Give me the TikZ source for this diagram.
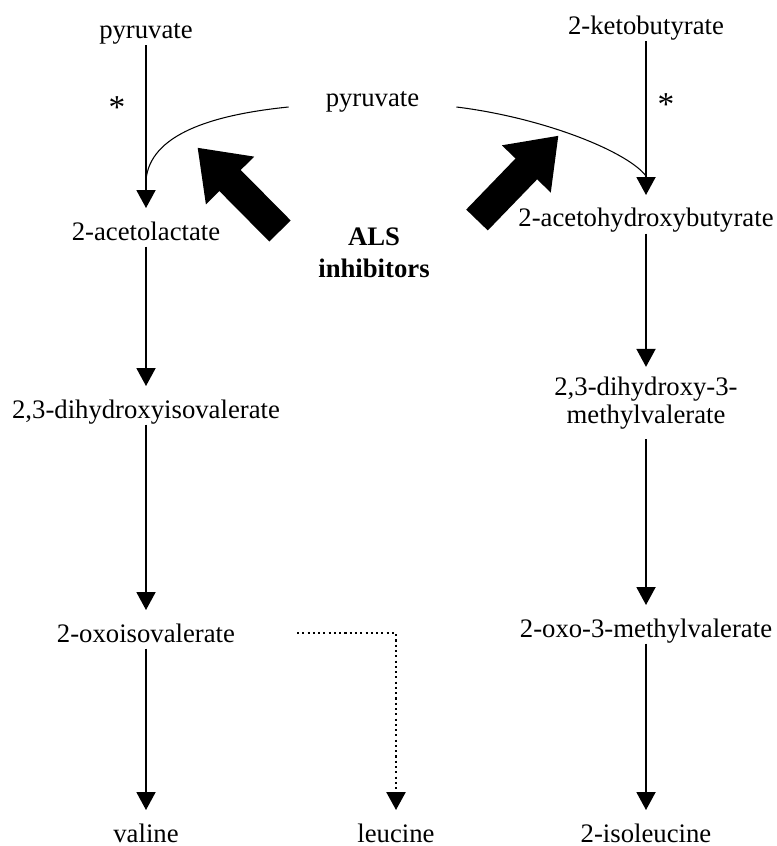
\documentclass[tikz,border=0pt]{standalone}
\usepackage{fontspec}
\setmainfont{Liberation Serif}
\usetikzlibrary{arrows.meta}

\begin{document}
\begin{tikzpicture}
        [met/.style = {font=\fontsize{15.2}{15.9}\selectfont,
        inner sep=0pt, text height=18pt, text depth=3.5pt, anchor=base},
        pair/.style = {font=\fontsize{15.2}{15.9}\selectfont,
        inner xsep=0pt, inner ysep=5.5pt, align=center},
        conv/.style = {line width=1.1pt,
        -{Triangle[length=3.6mm,width=3.8mm]}},
        feed/.style = {line width=0.6pt}]

        \useasboundingbox (0,0) rectangle (15.52,-16.92);

        % Valine branch
        \node[met] (pyrL) at (2.92,-0.78) {pyruvate};
        \node[met] (acl) at (2.92,-4.80) {2-acetolactate};
        \node[met] (dhiv) at (2.92,-8.36) {2,3-dihydroxyisovalerate};
        \node[met] (oiv) at (2.92,-12.84) {2-oxoisovalerate};
        \node[met, text depth=0pt] (val) at (2.92,-16.84) {valine};

        % Isoleucine branch
        \node[met] (kb) at (12.92,-0.70) {2-ketobutyrate};
        \node[met] (ahb) at (12.92,-4.54) {2-acetohydroxybutyrate};
        \node[pair] (dhmv) at (12.92,-8.06) {2,3-dihydroxy-3-\\methylvalerate};
        \node[met] (omv) at (12.92,-12.74) {2-oxo-3-methylvalerate};
        \node[met, text depth=0pt] (ile) at (12.92,-16.84) {2-isoleucine};

        % Leucine
        \node[met, text depth=0pt] (leu) at (7.92,-16.84) {leucine};

        % Second pyruvate and inhibitors
        \node[met, inner xsep=21pt] (pyrC) at (7.45,-2.14) {pyruvate};
        \node[pair, font=\bfseries\fontsize{15.2}{18}\selectfont] (als) at (7.48,-5.06) {ALS\\inhibitors};

        % ALS steps
        \node[met, font=\fontsize{19}{19}\selectfont] (starL) at (2.34,-2.38) {*};
        \node[met, font=\fontsize{19}{19}\selectfont] (starR) at (13.32,-2.32) {*};

        \draw[conv] (pyrL) -- (acl);
        \draw[conv] (acl) -- (dhiv);
        \draw[conv] (dhiv) -- (oiv);
        \draw[conv] (oiv) -- (val);

        \draw[conv] (kb) -- (ahb);
        \draw[conv] (ahb) -- (dhmv);
        \draw[conv] (dhmv) -- (omv);
        \draw[conv] (omv) -- (ile);

        \coordinate (leuS) at (5.94,-12.66);
        \draw[conv, line width=1.4pt, dash pattern=on 1.2pt off 1.8pt] (leuS) -| (leu.north);

        % Pyruvate joining both branches
        \coordinate (joinL) at (2.92,-3.60);
        \coordinate (joinR) at (12.92,-3.52);
        \draw[feed] (pyrC.base west) .. controls (4.20,-2.30) and (3.00,-2.70) .. (joinL);
        \draw[feed] (pyrC.base east) .. controls (10.90,-2.36) and (12.56,-3.04) .. (joinR);

        % Block arrows
        \fill[shift={(5.60,-4.62)}, rotate=134.7]
            (0,-0.30) -- (1.42,-0.30) -- (1.42,-0.68) -- (2.34,0)
            -- (1.42,0.68) -- (1.42,0.30) -- (0,0.30) -- cycle;
        \fill[shift={(9.54,-4.40)}, rotate=46]
            (0,-0.30) -- (1.42,-0.30) -- (1.42,-0.68) -- (2.34,0)
            -- (1.42,0.68) -- (1.42,0.30) -- (0,0.30) -- cycle;
\end{tikzpicture}
\end{document}
